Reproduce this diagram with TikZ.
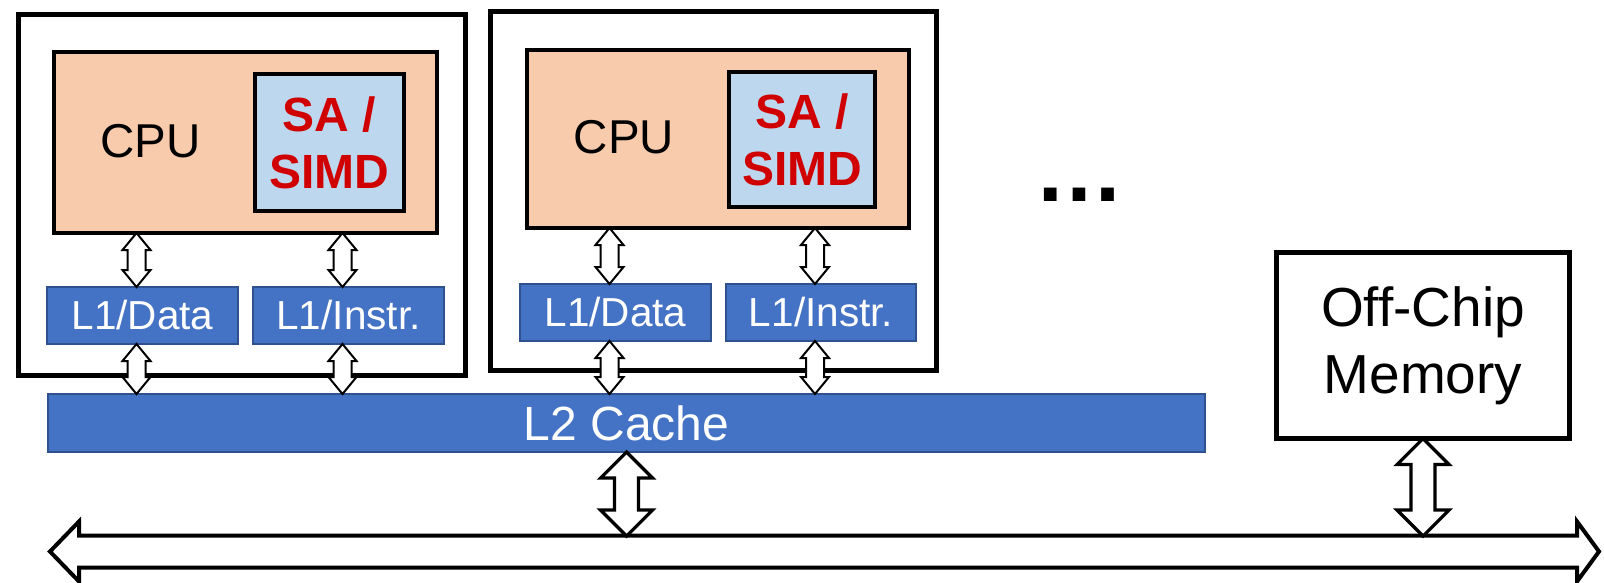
\documentclass[tikz,border=0pt]{standalone}
\usepackage{fontspec}
\setmainfont{Liberation Sans}
\usetikzlibrary{calc}

\definecolor{cpufill}{HTML}{F8CBAD}
\definecolor{simdfill}{HTML}{BDD7EE}
\definecolor{cacheblue}{HTML}{4472C4}
\definecolor{cacheedge}{HTML}{2F528F}
\definecolor{simdred}{HTML}{D00000}

% vertical block double arrow: style, top point, bottom point,
% shaft half width, head half width, head length (all in pt)
\newcommand\vbidir[6]{%
  \draw[#1] let \p1=#2, \p2=#3 in
    (\x1,\y1) -- ({\x1+#5pt},{\y1-#6pt}) -- ({\x1+#4pt},{\y1-#6pt})
    -- ({\x1+#4pt},{\y2+#6pt}) -- ({\x1+#5pt},{\y2+#6pt}) -- (\x1,\y2)
    -- ({\x1-#5pt},{\y2+#6pt}) -- ({\x1-#4pt},{\y2+#6pt})
    -- ({\x1-#4pt},{\y1-#6pt}) -- ({\x1-#5pt},{\y1-#6pt}) -- cycle;}

\tikzset{
  x=1pt, y=-1pt,
  box/.style={rectangle, inner sep=0pt, outer sep=0pt},
  corebox/.style={box, draw=black, line width=5pt, fill=white},
  cpubox/.style={box, draw=black, line width=4pt, fill=cpufill},
  simdbox/.style={box, draw=black, line width=4pt, fill=simdfill,
    text=simdred, align=center,
    font=\bfseries\fontsize{48}{57}\selectfont},
  cachebox/.style={box, draw=cacheedge, line width=1.2pt, fill=cacheblue,
    text=white},
  membox/.style={box, draw=black, line width=5pt, fill=white, align=center,
    font=\fontsize{55}{67}\selectfont},
  smallarrow/.style={draw=black, fill=white, line width=2pt, miter limit=10},
  bigarrow/.style={draw=black, fill=white, line width=3.2pt, miter limit=10},
  busarrow/.style={draw=black, fill=white, line width=4pt, miter limit=10},
}

\begin{document}
\begin{tikzpicture}
\useasboundingbox (0,0) rectangle (1604,582);

% core tiles
\node[corebox, minimum width=447pt, minimum height=361pt] (core1) at (242,195) {};
\node[corebox, minimum width=446pt, minimum height=359pt] (core2) at (713.5,191) {};

% processors
\node[cpubox, minimum width=383pt, minimum height=181pt] (cpu1) at (245.5,142.5) {};
\node[cpubox, minimum width=382pt, minimum height=178pt] (cpu2) at (718,139) {};
\node[anchor=base, font=\fontsize{47.5}{57}\selectfont] (cpulabel1) at (150.5,157) {CPU};
\node[anchor=base, font=\fontsize{47.5}{57}\selectfont] (cpulabel2) at (624,153) {CPU};

% accelerator units
\node[simdbox, minimum width=149pt, minimum height=137pt] (simd1) at (329.5,142.5) {SA /\\SIMD};
\node[simdbox, minimum width=146pt, minimum height=135pt] (simd2) at (802,139.5) {SA /\\SIMD};

% first-level caches
\node[cachebox, minimum width=191pt, minimum height=57pt, font=\fontsize{40.5}{48}\selectfont] (l1d1) at (142.5,315.5) {L1/Data};
\node[cachebox, minimum width=191pt, minimum height=57pt, font=\fontsize{40.5}{48}\selectfont] (l1i1) at (348.5,315.5) {L1/Instr.};
\node[cachebox, minimum width=191pt, minimum height=57pt, font=\fontsize{40.5}{48}\selectfont] (l1d2) at (615.5,312.5) {L1/Data};
\node[cachebox, minimum width=190pt, minimum height=57pt, font=\fontsize{40.5}{48}\selectfont] (l1i2) at (821,312.5) {L1/Instr.};

% shared cache
\node[cachebox, minimum width=1157pt, minimum height=58pt, font=\fontsize{48}{56}\selectfont] (l2) at (626.5,423) {L2 Cache};

% main memory
\node[membox, minimum width=293pt, minimum height=186pt] (mem) at (1423,345.5) {Off-Chip\\Memory};

% more cores
\node[anchor=base, font=\bfseries\fontsize{90}{90}\selectfont] (more) at (1079,201) {…};

% system bus
\coordinate (busW) at (50,551.5);
\coordinate (busE) at (1599,551.5);
\coordinate (bustop) at (0,536);
\draw[busarrow] let \p1=(busW), \p2=(busE) in
  (\x1,\y1) -- ({\x1+29pt},{\y1+30pt}) -- ({\x1+29pt},{\y1+16pt})
  -- ({\x2-22pt},{\y1+16pt}) -- ({\x2-22pt},{\y1+30pt}) -- (\x2,\y2)
  -- ({\x2-22pt},{\y1-30pt}) -- ({\x2-22pt},{\y1-16pt})
  -- ({\x1+29pt},{\y1-16pt}) -- ({\x1+29pt},{\y1-30pt}) -- cycle;

% CPU <-> L1
\vbidir{smallarrow}{([xshift=-6pt]cpu1.south -| l1d1.north)}{([xshift=-6pt]l1d1.north)}{9}{14}{17}
\vbidir{smallarrow}{([xshift=-6pt]cpu1.south -| l1i1.north)}{([xshift=-6pt]l1i1.north)}{9}{14}{17}
\vbidir{smallarrow}{([xshift=-6pt]cpu2.south -| l1d2.north)}{([xshift=-6pt]l1d2.north)}{9}{14}{17}
\vbidir{smallarrow}{([xshift=-6pt]cpu2.south -| l1i2.north)}{([xshift=-6pt]l1i2.north)}{9}{14}{17}

% L1 <-> L2
\vbidir{smallarrow}{([xshift=-6pt]l1d1.south)}{([xshift=-6pt]l1d1.south |- l2.north)}{9}{14}{17}
\vbidir{smallarrow}{([xshift=-6pt]l1i1.south)}{([xshift=-6pt]l1i1.south |- l2.north)}{9}{14}{17}
\vbidir{smallarrow}{([xshift=-6pt]l1d2.south)}{([xshift=-6pt]l1d2.south |- l2.north)}{9}{14}{17}
\vbidir{smallarrow}{([xshift=-6pt]l1i2.south)}{([xshift=-6pt]l1i2.south |- l2.north)}{9}{14}{17}

% L2 and memory <-> bus
\vbidir{bigarrow}{(l2.south)}{(l2.south |- bustop)}{12}{26}{26}
\vbidir{bigarrow}{(mem.south)}{(mem.south |- bustop)}{12}{26}{26}
\end{tikzpicture}
\end{document}
